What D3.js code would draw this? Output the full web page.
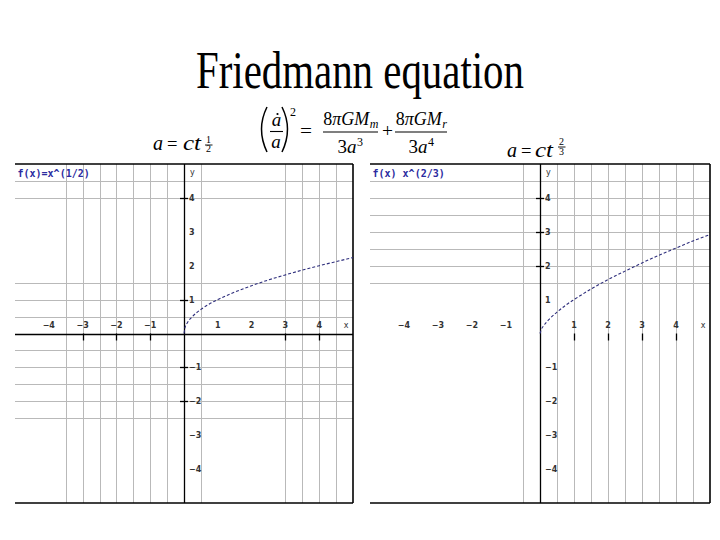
<!DOCTYPE html>
<html><head><meta charset="utf-8">
<script src="https://cdn.jsdelivr.net/npm/d3@7"></script>
<style>body{margin:0;background:#fff}svg{display:block}</style>
</head><body>
<svg id="c" width="720" height="540"></svg>
<script>
// ---------------- data ----------------
const titleText = "Friedmann equation";
const xTickLabels = [-4, -3, -2, -1, 1, 2, 3, 4];
const yTickLabels = [4, 3, 2, 1, -1, -2, -3, -4];

// curve: f(x)=x^(1/2)
const sqrtX = [0, 0.03, 0.1, 0.25, 0.5, 0.75, 1, 1.5, 2, 2.5, 3, 3.5, 4, 4.5, 5];
const sqrtY = [0, 0.17, 0.32, 0.5, 0.71, 0.87, 1, 1.22, 1.41, 1.58, 1.73, 1.87, 2, 2.12, 2.24];
// curve: f(x)=x^(2/3)
const powX = [0, 0.03, 0.1, 0.25, 0.5, 0.75, 1, 1.5, 2, 2.5, 3, 3.5, 4, 4.5, 4.95];
const powY = [0, 0.1, 0.22, 0.4, 0.63, 0.83, 1, 1.31, 1.59, 1.84, 2.08, 2.31, 2.52, 2.73, 2.9];

// grid lines (in axis units) visible in each graph
const leftGridX = [-3.5, -3, -2.5, -2, -1.5, -1, -0.5, 0.5, 3, 3.5, 4, 4.5];
const leftGridY = [4.5, 4, 1.5, 1, 0.5, -0.5, -1, -1.5, -2, -2.5];
const leftTickX = [-3, -2, -1, 3, 4];
const leftTickY = [4, 1, -1, -2];
const rightGridX = [-0.5, 0.5, 1, 1.5, 2, 2.5, 3, 3.5, 4, 4.5];
const rightGridY = [4.5, 4, 3.5, 3, 2.5, 2, 1.5];
const rightTickX = [1, 2, 3, 4];
const rightTickY = [4, 3, 2];

const leftLabel = "f(x)=x^(1/2)";
const rightLabel = "f(x) x^(2/3)";

// ---------------- drawing ----------------
const svg = d3.select("#c");

svg.append("text")
  .attr("x", 196).attr("y", 87.5)
  .attr("textLength", 328).attr("lengthAdjust", "spacingAndGlyphs")
  .style("font-family", "'Liberation Serif','Times New Roman',serif")
  .style("font-size", "52px").attr("fill", "#000")
  .text(titleText);

function graph(cfg) {
  const x = d3.scaleLinear().domain([-5, 5]).range([cfg.x0, cfg.x1]);
  const y = d3.scaleLinear().domain([5, -5]).range([164, 503]);
  const g = svg.append("g");
  const px = v => Math.round(x(v)) + 0.5;
  const py = v => Math.round(y(v)) + 0.5;

  g.selectAll(".gx").data(cfg.gridX).join("line")
    .attr("x1", d => px(d)).attr("x2", d => px(d))
    .attr("y1", y(5)).attr("y2", y(-5))
    .attr("stroke", "#b9b9b9").attr("stroke-width", 1).attr("shape-rendering", "crispEdges");
  g.selectAll(".gy").data(cfg.gridY).join("line")
    .attr("x1", x(-5)).attr("x2", x(5))
    .attr("y1", d => py(d)).attr("y2", d => py(d))
    .attr("stroke", "#b9b9b9").attr("stroke-width", 1).attr("shape-rendering", "crispEdges");

  // borders: top, right, bottom
  const bw = 1.6;
  g.append("line").attr("x1", x(-5)).attr("x2", x(5)).attr("y1", y(5)).attr("y2", y(5))
    .attr("stroke", "#000").attr("stroke-width", bw);
  g.append("line").attr("x1", x(5)).attr("x2", x(5)).attr("y1", y(5)).attr("y2", y(-5))
    .attr("stroke", "#000").attr("stroke-width", bw);
  g.append("line").attr("x1", x(-5)).attr("x2", x(5)).attr("y1", y(-5)).attr("y2", y(-5))
    .attr("stroke", "#000").attr("stroke-width", bw);

  // y axis
  g.append("line").attr("x1", px(0)).attr("x2", px(0)).attr("y1", y(5)).attr("y2", y(-5))
    .attr("stroke", "#000").attr("stroke-width", 1.3);
  // x axis
  if (cfg.xAxisLine) {
    g.append("line").attr("x1", x(-5)).attr("x2", x(5)).attr("y1", py(0)).attr("y2", py(0))
      .attr("stroke", "#000").attr("stroke-width", 1.3);
  }
  // ticks
  g.selectAll(".tx").data(cfg.tickX).join("line")
    .attr("x1", d => px(d)).attr("x2", d => px(d))
    .attr("y1", y(0)).attr("y2", y(0) + 7)
    .attr("stroke", "#000").attr("stroke-width", 1.3);
  g.selectAll(".ty").data(cfg.tickY).join("line")
    .attr("x1", x(0) - 4).attr("x2", x(0) + 4)
    .attr("y1", d => py(d)).attr("y2", d => py(d))
    .attr("stroke", "#000").attr("stroke-width", 1.3);

  const fam = "'DejaVu Sans',Arial,sans-serif";
  const fmt = v => (v < 0 ? "\u2212" + Math.abs(v) : String(v));
  g.selectAll(".lx").data(xTickLabels).join("text")
    .attr("x", d => x(d)).attr("y", y(0) - 5.5)
    .attr("text-anchor", "middle").attr("fill", "#333")
    .style("font-family", fam).style("font-size", "8px").style("font-weight", "bold")
    .text(fmt);
  g.selectAll(".ly").data(yTickLabels).join("text")
    .attr("x", x(0) + 5).attr("y", d => y(d) + 3)
    .attr("fill", "#333")
    .style("font-family", fam).style("font-size", "8px").style("font-weight", "bold")
    .text(fmt);
  g.append("text").attr("x", x(0) + 6).attr("y", y(4.75) + 3).attr("fill", "#333")
    .style("font-family", fam).style("font-size", "8px").text("y");
  g.append("text").attr("x", x(4.8)).attr("y", y(0) - 5.5).attr("fill", "#333").attr("text-anchor", "middle")
    .style("font-family", fam).style("font-size", "8px").text("x");

  // curve
  const pts = cfg.cx.map((v, i) => [v, cfg.cy[i]]);
  g.append("path").datum(pts)
    .attr("d", d3.line().x(d => x(d[0])).y(d => y(d[1])).curve(d3.curveMonotoneX))
    .attr("fill", "none").attr("stroke", "#2e2e7c").attr("stroke-width", 1.1)
    .attr("stroke-dasharray", "3,2");

  // function label
  g.append("text").attr("x", x(-5) + 2.5).attr("y", 177)
    .attr("fill", "#2b2ba0")
    .style("font-family", "'DejaVu Sans Mono','Liberation Mono',monospace")
    .style("font-size", "10px").style("font-weight", "bold")
    .text(cfg.label);
}

graph({ x0: 15, x1: 353, gridX: leftGridX, gridY: leftGridY, tickX: leftTickX, tickY: leftTickY,
        xAxisLine: true, cx: sqrtX, cy: sqrtY, label: leftLabel });
graph({ x0: 370, x1: 710, gridX: rightGridX, gridY: rightGridY, tickX: rightTickX, tickY: rightTickY,
        xAxisLine: false, cx: powX, cy: powY, label: rightLabel });

// ---------------- equations ----------------
const serif = "'Liberation Serif','Times New Roman',serif";
function txt(xp, yp, size, s, italic, anchor, len) {
  const t = svg.append("text").attr("x", xp).attr("y", yp)
    .attr("text-anchor", anchor || "start")
    .style("font-family", serif).style("font-size", size + "px")
    .style("font-style", italic ? "italic" : "normal").attr("fill", "#000").text(s);
  if (len) t.attr("textLength", len).attr("lengthAdjust", "spacingAndGlyphs");
  return t;
}
function bar(x1, x2, yp, w) {
  svg.append("line").attr("x1", x1).attr("x2", x2).attr("y1", yp).attr("y2", yp)
    .attr("stroke", "#000").attr("stroke-width", w || 1.1);
}
// a centred text made of pieces: [string, italic, size, dy]
function pieces(cx, yp, parts) {
  const t = svg.append("text").attr("x", 0).attr("y", yp)
    .style("font-family", serif).attr("fill", "#000");
  parts.forEach(p => {
    t.append("tspan").style("font-style", p[1] ? "italic" : "normal")
      .style("font-size", p[2] + "px").attr("dy", p[3] || 0).attr("dx", p[4] || 0).text(p[0]);
  });
  const w = t.node().getComputedTextLength();
  t.attr("x", cx - w / 2);
  return t;
}

// a = c t^(1/2)
txt(153, 150, 20, "a", true, "start", 10);
txt(167, 150, 19, "=", false, "start", 10.5);
txt(183, 150, 20, "ct", true, "start", 18);
txt(208.5, 142.5, 10, "1", false, "middle");
bar(205, 212.5, 145, 0.9);
txt(208.5, 152, 10, "2", false, "middle");

// a = c t^(2/3)
txt(507, 157, 20, "a", true, "start", 10);
txt(521, 157, 19, "=", false, "start", 10.5);
txt(535, 157, 20, "ct", true, "start", 18);
txt(561.5, 145, 10, "2", false, "middle");
bar(558, 565.5, 147, 0.9);
txt(561.5, 155, 10, "3", false, "middle");

// (a_dot / a)^2
svg.append("path").attr("d", "M267,107 Q256,129 267,152").attr("fill", "none").attr("stroke", "#000").attr("stroke-width", 1.5);
svg.append("path").attr("d", "M282,107 Q293,129 282,152").attr("fill", "none").attr("stroke", "#000").attr("stroke-width", 1.5);
txt(276.5, 125.5, 19, "a", true, "middle");
svg.append("circle").attr("cx", 277.5).attr("cy", 114).attr("r", 1.1).attr("fill", "#000");
bar(270, 283, 131.5, 1.1);
txt(276, 147.5, 19, "a", true, "middle");
txt(290, 116, 12, "2", false);
txt(300, 137, 19, "=", false, "start", 12);

// 8πGM_m / 3a^3
pieces(350.5, 125, [["8", false, 18], ["πGM", true, 18], ["m", true, 12, 3, 0.5]]);
bar(323, 378, 132, 1.1);
pieces(350, 153, [["3", false, 19], ["a", true, 19], ["3", false, 12, -7, 0.5]]);

txt(382, 137, 19, "+", false, "start", 11);

// 8πGM_r / 3a^4
pieces(421, 125, [["8", false, 18], ["πGM", true, 18], ["r", true, 12, 3, 0.5]]);
bar(395, 447, 132, 1.1);
pieces(421, 153, [["3", false, 19], ["a", true, 19], ["4", false, 12, -7, 0.5]]);
</script>
</body></html>
